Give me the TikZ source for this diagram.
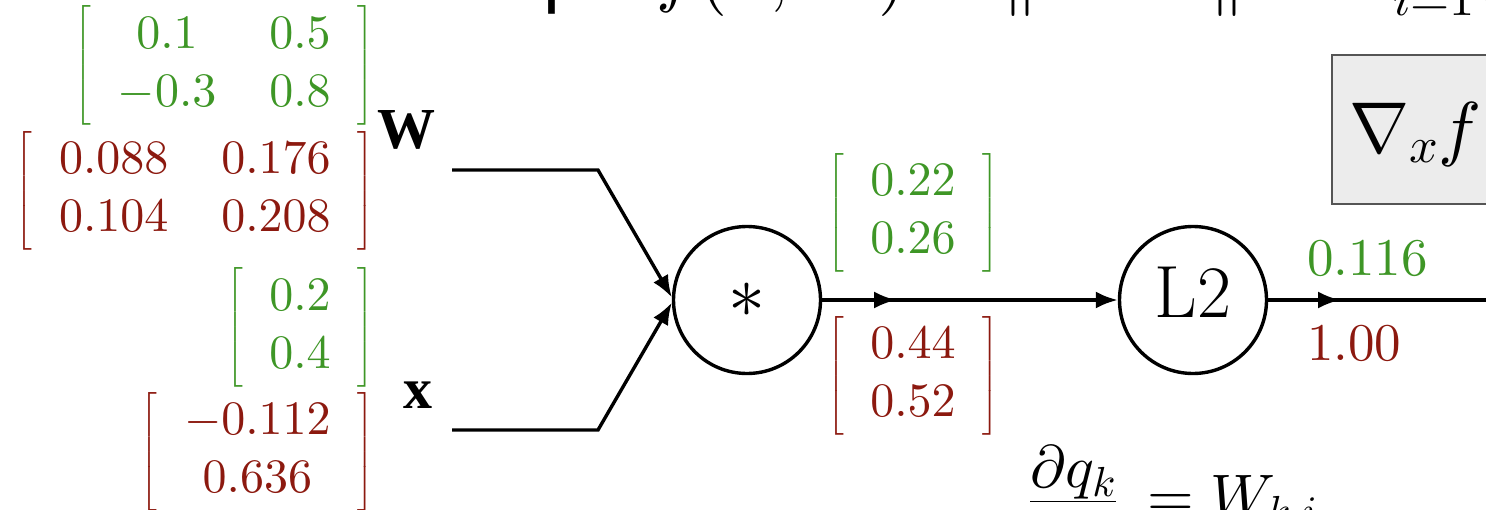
\documentclass[tikz,border=0pt]{standalone}
\DeclareFontShape{OT1}{cmr}{m}{n}{<->cmr10}{}
\DeclareFontShape{OML}{cmm}{m}{it}{<->cmmi10}{}
\DeclareFontShape{OMS}{cmsy}{m}{n}{<->cmsy10}{}
\DeclareFontShape{OMX}{cmex}{m}{n}{<->cmex10}{}
\usepackage{amsmath}
\usepackage{fontspec}
\newfontfamily\lsans{Liberation Sans}
\newfontfamily\lserif{Liberation Serif}
\usetikzlibrary{arrows.meta,decorations.markings}
\definecolor{mgreen}{RGB}{62,150,38}
\definecolor{mred}{RGB}{140,25,15}
\definecolor{boxfill}{RGB}{236,236,236}
\definecolor{boxline}{RGB}{85,85,85}
\newcommand\brmat[2]{\left[\begin{array}{#1}#2\end{array}\right]}
\begin{document}
\begin{tikzpicture}[x=1pt,y=-1pt,
  every node/.style={inner sep=0pt},
  edge/.style={line width=3.4pt},
  tip/.style={-{Latex[length=22pt,width=17pt]}},
  midtip/.style={postaction={decorate},decoration={markings,
      mark=at position #1 with {\arrow{Latex[length=22pt,width=17pt]}}}},
  opnode/.style={circle,draw,line width=3.4pt,minimum size=147pt,inner sep=0pt,
      font=\fontsize{74}{88}\selectfont,text height=50pt,text depth=16pt},
  mat/.style={font={\fontsize{48}{58}\selectfont\setlength\arraycolsep{26.5pt}}},
  gval/.style={mat,text=mgreen},
  rval/.style={mat,text=mred},
  outval/.style={font=\fontsize{53}{64}\selectfont},
  varlab/.style={font=\lserif\bfseries\fontsize{58}{70}\selectfont},
  gradbg/.style={draw=boxline,fill=boxfill,line width=2.4pt,minimum width=220pt,minimum height=149pt}]
\useasboundingbox (0,0) rectangle (1486,509);
\clip (0,0) rectangle (1486,509);

% cut-off heading and formula at the top
\node[anchor=base east,font=\lsans\fontsize{76}{90}\selectfont] (title) at (645,-2) {A vectorized example};
\node[anchor=base west,font=\fontsize{72}{86}\selectfont] (fdef) at (656,-2)
  {$f(x,W)=\|W\cdot x\|^2=\sum_{i=1}^n (W\cdot x)_i^2$};

% gradient box on the right
\node[gradbg,anchor=north west] (gradbox) at (1331,54) {};
\node[anchor=base west,font=\fontsize{72}{86}\selectfont] (gradtxt) at (1349,152) {$\nabla_x f$};

% input values and gradients
\node[gval,anchor=east] (Wval) at (374,65.5) {$\brmat{cc}{0.1 & 0.5\\ -0.3 & 0.8}$};
\node[rval,anchor=east] (Wgrad) at (374,191) {$\brmat{cc}{0.088 & 0.176\\ 0.104 & 0.208}$};
\node[gval,anchor=east] (xval) at (374,327.5) {$\brmat{c}{0.2\\ 0.4}$};
\node[rval,anchor=east] (xgrad) at (374,452) {$\brmat{c}{-0.112\\ 0.636}$};

\node[varlab,anchor=base west] (Wlab) at (377,148) {W};
\node[varlab,anchor=base west] (xlab) at (403,408) {x};

% operation nodes
\node[opnode] (mul) at (747,300) {$\ast$};
\node[opnode] (l2) at (1193,300) {$\mathrm{L2}$};

% intermediate values
\node[gval] (qval) at (913,213) {$\brmat{c}{0.22\\ 0.26}$};
\node[rval] (qgrad) at (913,376) {$\brmat{c}{0.44\\ 0.52}$};

\node[outval,text=mgreen,anchor=base west] (fval) at (1307,275) {$0.116$};
\node[outval,text=mred,anchor=base west] (fgrad) at (1307,360) {$1.00$};

% connectors
\coordinate (wstart) at (452,170);
\coordinate (wbend) at (598,170);
\coordinate (xstart) at (452,430);
\coordinate (xbend) at (598,430);
\coordinate (outend) at (1500,300);
\draw[edge,tip] (wstart) -- (wbend) -- (mul.178);
\draw[edge,tip] (xstart) -- (xbend) -- (mul.182);
\draw[edge,tip,midtip=74pt] (mul) -- (l2);
\draw[edge,midtip=72pt] (l2) -- (outend);

% cut-off local gradient formula at the bottom
\node[anchor=base west,font=\fontsize{60}{72}\selectfont] (dqdx) at (1029,516)
  {$\frac{\displaystyle\partial q_k}{\displaystyle\partial x_i\rule{0pt}{0.95em}}\mkern4mu=W_{k,i}$};
\end{tikzpicture}
\end{document}
